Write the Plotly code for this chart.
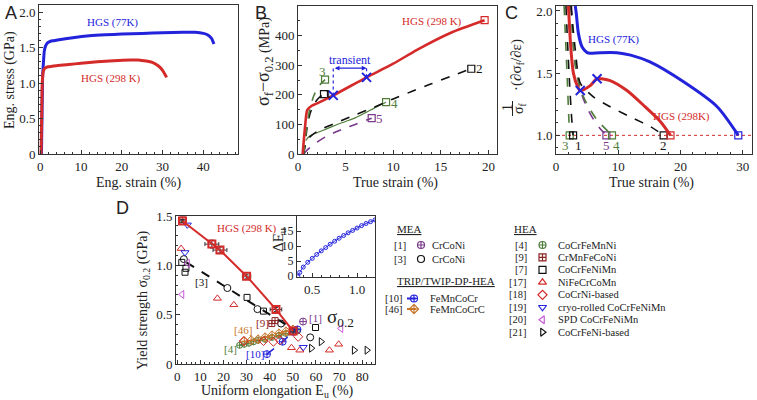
import plotly.graph_objects as go

SERIF = "Liberation Serif"
SANS = "Liberation Sans"
W, H = 757, 400

RED = "#d42a2a"
BLUE = "#2323dc"
GREEN = "#4f7d3a"
PURPLE = "#7a3a8c"
ORANGE = "#c8762c"
DKRED = "#8c2323"
MAGENTA = "#c85ad8"
BLACK = "#111111"

# ---------------- Panel A: engineering stress-strain ----------------
A_strain_77 = [0.3, 0.45, 0.6, 0.8, 1.0, 1.3, 1.7, 2.2, 3, 5, 8, 12, 16, 20, 25, 30, 35, 38, 40, 41, 42, 42.6]
A_stress_77 = [0, 0.6, 1.1, 1.3, 1.45, 1.52, 1.56, 1.58, 1.595, 1.615, 1.64, 1.665, 1.68, 1.69, 1.70, 1.71, 1.715, 1.715, 1.70, 1.68, 1.63, 1.55]
A_strain_298 = [0.2, 0.35, 0.5, 0.7, 1.0, 1.5, 2, 4, 7, 10, 14, 18, 22, 24, 26, 27.5, 29, 30, 31]
A_stress_298 = [0, 0.5, 1.0, 1.15, 1.2, 1.22, 1.23, 1.245, 1.26, 1.28, 1.30, 1.315, 1.325, 1.325, 1.31, 1.29, 1.24, 1.18, 1.08]

# ---------------- Panel B: sigma_f - sigma_0.2 vs true strain ----------------
B_hgs_x = [0.49, 0.74, 0.98, 1.44, 1.96, 3.7, 7.2, 10, 12.5, 16, 19.6]
B_hgs_y = [0, 92, 149, 163, 170, 198, 259, 305, 352, 409, 452]
B_c1_x = [0.6, 0.8, 1.0, 1.3, 1.7, 2.2, 2.73]
B_c1_y = [0, 50, 100, 140, 170, 190, 202]
B_c2_x = [0.6, 0.9, 1.5, 2.5, 4, 6, 8, 10, 12, 14, 16, 18.2]
B_c2_y = [0, 45, 65, 85, 105, 132, 158, 186, 212, 237, 262, 288]
B_c3_x = [0.6, 0.8, 1.0, 1.3, 1.7, 2.2, 2.84]
B_c3_y = [0, 60, 110, 160, 200, 230, 251]
B_c4_x = [0.8, 1.2, 2, 3, 4, 5, 6, 7, 8, 9.25]
B_c4_y = [45, 60, 72, 85, 98, 110, 122, 138, 155, 175]
B_c5_x = [0.6, 1, 2, 3, 4, 5, 6, 7, 7.74]
B_c5_y = [0, 15, 40, 60, 75, 88, 100, 112, 121]
B_transient_x = [3.7, 7.2]
B_transient_y = [198, 259]

# ---------------- Panel C: normalized hardening rate ----------------
C_77_x = [3.1, 3.26, 3.6, 4.2, 5.0, 5.5, 7.1, 9.8, 12, 15.1, 20.5, 25.9, 29.3]
C_77_y = [2.04, 1.98, 1.82, 1.71, 1.665, 1.66, 1.665, 1.665, 1.645, 1.59, 1.43, 1.23, 1.0]
C_298_x = [2.0, 2.4, 2.8, 3.4, 3.9, 5.5, 6.6, 8.7, 11.4, 14.1, 16.8, 18.4]
C_298_y = [2.04, 1.69, 1.5, 1.4, 1.36, 1.40, 1.455, 1.44, 1.36, 1.24, 1.11, 1.0]
C_c1_x = [1.6, 1.9, 2.2, 2.5, 2.75]
C_c1_y = [2.04, 1.7, 1.4, 1.15, 1.0]
C_c2_x = [2.4, 3.1, 3.9, 6.0, 8.7, 12.5, 15.2, 17.3]
C_c2_y = [2.04, 1.69, 1.42, 1.31, 1.23, 1.135, 1.07, 1.0]
C_c3_x = [1.3, 1.6, 1.85, 2.05, 2.2]
C_c3_y = [2.04, 1.7, 1.4, 1.15, 1.0]
C_c4_x = [2.4, 2.8, 3.3, 4.0, 5.0, 6.5, 8.0, 9.0]
C_c4_y = [2.04, 1.7, 1.5, 1.36, 1.25, 1.13, 1.05, 1.0]
C_c5_x = [2.5, 3.0, 4.0, 5.0, 6.0, 7.0, 8.1]
C_c5_y = [2.04, 1.6, 1.35, 1.22, 1.13, 1.06, 1.0]
C_cross_x = [3.9, 6.6]
C_cross_y = [1.36, 1.455]

# ---------------- Panel D: yield strength vs uniform elongation ----------------
D_hgs_Eu = [2.3, 15, 18.5, 30, 42.7, 50.1]
D_hgs_sig = [1.45, 1.215, 1.155, 0.89, 0.553, 0.334]
D_hgs_errx = [0.6, 3, 3, 1.8, 2.5, 1.2]
D_hgs_erry = [0.015, 0.04, 0.03, 0.02, 0.02, 0.02]
D_r1_Eu = [54.4]
D_r1_sig = [0.43]
D_r3_Eu = [2.9, 21.7, 34.7, 44.9, 57.5]
D_r3_sig = [1.063, 0.77, 0.556, 0.41, 0.27]
D_r3_trend_Eu = [4, 50]
D_r3_trend_sig = [1.03, 0.355]
D_r4_Eu = [27, 29, 31, 33, 35, 38, 41, 44, 47, 50, 52]
D_r4_sig = [0.19, 0.2, 0.21, 0.225, 0.24, 0.25, 0.27, 0.29, 0.31, 0.325, 0.335]
D_r46_Eu = [29, 32, 35, 38, 41, 44, 47, 50]
D_r46_sig = [0.23, 0.24, 0.25, 0.27, 0.29, 0.31, 0.33, 0.35]
D_r10_Eu = [38.8, 45.6, 50.1, 52]
D_r10_sig = [0.1, 0.226, 0.327, 0.35]
D_r7_Eu = [2.0, 3.4, 3.8, 30.2, 37.3, 59.8]
D_r7_sig = [1.03, 0.93, 0.97, 0.675, 0.536, 0.37]
D_r9_Eu = [2.4, 40.9, 42.3]
D_r9_sig = [1.46, 0.41, 0.44]
D_r17_Eu = [1.7, 17.4, 24.5, 49.4, 53, 65.8, 69.8]
D_r17_sig = [1.17, 0.665, 0.6, 0.165, 0.14, 0.14, 0.2]
D_r18_Eu = [28.8, 37.3, 41.6, 44.4, 52.3]
D_r18_sig = [0.233, 0.233, 0.226, 0.24, 0.276]
D_r19_Eu = [4.4, 3.4, 54.5]
D_r19_sig = [1.41, 1.13, 0.17]
D_r20_Eu = [4.5, 2.1, 70.8]
D_r20_sig = [1.02, 0.705, 0.36]
D_r21_Eu = [58, 62.2, 76.5, 82]
D_r21_sig = [0.16, 0.226, 0.14, 0.14]

# inset: delta Eu vs sigma_0.2
I_sig = [0.34, 0.36, 0.4, 0.45, 0.5, 0.55, 0.6, 0.65, 0.7, 0.75, 0.8, 0.85, 0.9, 0.95, 1.0, 1.05, 1.1, 1.15, 1.2]
I_dEu = [0, 1.2, 3.0, 4.6, 5.9, 7.2, 8.4, 9.5, 10.6, 11.6, 12.6, 13.5, 14.4, 15.2, 16.0, 16.8, 17.5, 18.1, 18.7]

# legend content
MEA_refs = ["[1]", "[3]"]
MEA_names = ["CrCoNi", "CrCoNi"]
MEA_symbols = ["circle-cross-open", "circle-open"]
MEA_colors = [PURPLE, BLACK]
TRIP_refs = ["[10]", "[46]"]
TRIP_names = ["FeMnCoCr", "FeMnCoCrC"]
TRIP_symbols = ["circle-cross-open", "diamond-cross-open"]
TRIP_colors = [BLUE, ORANGE]
HEA_refs = ["[4]", "[9]", "[7]", "[17]", "[18]", "[19]", "[20]", "[21]"]
HEA_names = ["CoCrFeMnNi", "CrMnFeCoNi", "CoCrFeNiMn", "NiFeCrCoMn", "CoCrNi-based",
             "cryo-rolled CoCrFeNiMn", "SPD CoCrFeNiMn", "CoCrFeNi-based"]
HEA_symbols = ["circle-cross-open", "square-cross-open", "square-open", "triangle-up-open",
               "diamond-open", "triangle-down-open", "triangle-left-open", "triangle-right-open"]
HEA_colors = [GREEN, DKRED, BLACK, RED, RED, BLUE, MAGENTA, BLACK]

fig = go.Figure()


def px_dom_x(a, b):
    return [a / W, b / W]


def px_dom_y(top, bottom):
    return [1 - bottom / H, 1 - top / H]


def axis(domain, rng, anchor, tickvals=None, ticktext=None, minor=None, **kw):
    d = dict(domain=domain, range=rng, anchor=anchor, showline=True, linecolor="#333", linewidth=1,
             mirror=True, ticks="inside", ticklen=4, tickcolor="#333", showgrid=False, zeroline=False,
             automargin=False, tickfont=dict(family=SERIF, size=13, color="#222"))
    if tickvals is not None:
        d["tickvals"] = tickvals
        d["ticktext"] = ticktext if ticktext is not None else [str(v) for v in tickvals]
    if minor is not None:
        d["minor"] = dict(ticks="inside", ticklen=2, dtick=minor, tickcolor="#333", showgrid=False)
    d.update(kw)
    return d


# ---- Panel A traces
fig.add_trace(go.Scatter(x=A_strain_77, y=A_stress_77, mode="lines", line=dict(color=BLUE, width=3, shape="spline", smoothing=0.6),
                         xaxis="x", yaxis="y", showlegend=False))
fig.add_trace(go.Scatter(x=A_strain_298, y=A_stress_298, mode="lines", line=dict(color=RED, width=3, shape="spline", smoothing=0.6),
                         xaxis="x", yaxis="y", showlegend=False))


# ---- Panel B traces
def b_curve(x, y, color, dash, width=1.6):
    fig.add_trace(go.Scatter(x=x, y=y, mode="lines", line=dict(color=color, width=width, dash=dash, shape="spline", smoothing=0.7),
                             xaxis="x2", yaxis="y2", showlegend=False))
    fig.add_trace(go.Scatter(x=[x[-1]], y=[y[-1]], mode="markers", marker=dict(symbol="square-open", size=7, color=color, line=dict(width=1.2)),
                             xaxis="x2", yaxis="y2", showlegend=False))


b_curve(B_c5_x, B_c5_y, PURPLE, "dash")
b_curve(B_c4_x, B_c4_y, GREEN, "solid", 1.2)
b_curve(B_c2_x, B_c2_y, BLACK, "dash")
b_curve(B_c1_x, B_c1_y, BLACK, "dash")
b_curve(B_c3_x, B_c3_y, GREEN, "dash")
b_curve(B_hgs_x, B_hgs_y, RED, "solid", 2.6)
fig.add_trace(go.Scatter(x=B_transient_x, y=B_transient_y, mode="markers", marker=dict(symbol="x-thin-open", size=9, color=BLUE, line=dict(width=2, color=BLUE)),
                         xaxis="x2", yaxis="y2", showlegend=False))


# ---- Panel C traces
def c_curve(x, y, color, dash, width=1.6):
    fig.add_trace(go.Scatter(x=x, y=y, mode="lines", line=dict(color=color, width=width, dash=dash, shape="spline", smoothing=0.7),
                             xaxis="x3", yaxis="y3", showlegend=False))
    fig.add_trace(go.Scatter(x=[x[-1]], y=[y[-1]], mode="markers", marker=dict(symbol="square-open", size=7, color=color, line=dict(width=1.2)),
                             xaxis="x3", yaxis="y3", showlegend=False))


c_curve(C_c3_x, C_c3_y, GREEN, "dash")
c_curve(C_c1_x, C_c1_y, BLACK, "dash")
c_curve(C_c5_x, C_c5_y, PURPLE, "dash")
c_curve(C_c4_x, C_c4_y, GREEN, "dash")
c_curve(C_c2_x, C_c2_y, BLACK, "dash")
c_curve(C_77_x, C_77_y, BLUE, "solid", 3)
c_curve(C_298_x, C_298_y, RED, "solid", 3)
fig.add_trace(go.Scatter(x=C_cross_x, y=C_cross_y, mode="markers", marker=dict(symbol="x-thin-open", size=9, color=BLUE, line=dict(width=2, color=BLUE)),
                         xaxis="x3", yaxis="y3", showlegend=False))


# ---- Panel D traces
def d_pts(x, y, sym, color, size=7, line=None):
    mode = "markers" if line is None else "lines+markers"
    fig.add_trace(go.Scatter(x=x, y=y, mode=mode, marker=dict(symbol=sym, size=size, color=color, line=dict(width=1, color=color)),
                             line=line, xaxis="x4", yaxis="y4", showlegend=False))


fig.add_trace(go.Scatter(x=D_r3_trend_Eu, y=D_r3_trend_sig, mode="lines", line=dict(color=BLACK, width=2, dash="dash"),
                         xaxis="x4", yaxis="y4", showlegend=False))
d_pts(D_r4_Eu, D_r4_sig, "circle-cross-open", GREEN, 6, dict(color=GREEN, width=1.3, dash="dash"))
d_pts(D_r46_Eu, D_r46_sig, "diamond-cross-open", ORANGE, 7, dict(color=ORANGE, width=1.3, dash="dash"))
d_pts(D_r10_Eu, D_r10_sig, "circle-cross-open", BLUE, 7, dict(color=BLUE, width=1.5, dash="dash"))
d_pts(D_r1_Eu, D_r1_sig, "circle-cross-open", PURPLE, 7)
d_pts(D_r3_Eu, D_r3_sig, "circle-open", BLACK, 7)
d_pts(D_r7_Eu, D_r7_sig, "square-open", BLACK, 6)
d_pts(D_r9_Eu, D_r9_sig, "square-cross-open", DKRED, 6)
d_pts(D_r17_Eu, D_r17_sig, "triangle-up-open", RED, 7)
d_pts(D_r18_Eu, D_r18_sig, "diamond-open", RED, 7)
d_pts(D_r19_Eu, D_r19_sig, "triangle-down-open", BLUE, 7)
d_pts(D_r20_Eu, D_r20_sig, "triangle-left-open", MAGENTA, 7)
d_pts(D_r21_Eu, D_r21_sig, "triangle-right-open", BLACK, 7)
fig.add_trace(go.Scatter(x=D_hgs_Eu, y=D_hgs_sig, mode="lines+markers",
                         line=dict(color=RED, width=2),
                         marker=dict(symbol="square-open", size=7, color=RED, line=dict(width=2, color=RED)),
                         error_x=dict(type="data", array=D_hgs_errx, color="#333", thickness=1, width=2),
                         error_y=dict(type="data", array=D_hgs_erry, color="#333", thickness=1, width=2),
                         xaxis="x4", yaxis="y4", showlegend=False))

# inset
fig.add_trace(go.Scatter(x=I_sig, y=I_dEu, mode="lines+markers", line=dict(color=BLUE, width=1, shape="spline"),
                         marker=dict(symbol="circle-open", size=4, color=BLUE, line=dict(width=1)),
                         xaxis="x5", yaxis="y5", showlegend=False))

# ---- legend markers on hidden pixel axis
leg_x, leg_y, leg_sym, leg_col = [], [], [], []
annots = []


def txt(x, y, s, size=11, color="#222", xanchor="left", font=SERIF, under=False, angle=0, yanchor="middle"):
    f = dict(family=font, size=size, color=color)
    if under:
        f["lineposition"] = "under"
    annots.append(dict(x=x / W, y=1 - y / H, xref="paper", yref="paper", text=s, showarrow=False,
                       xanchor=xanchor, yanchor=yanchor, font=f, textangle=angle))


txt(395, 229, "MEA", under=True)
for i in range(len(MEA_refs)):
    yy = 245 + 14 * i
    txt(408, yy, MEA_refs[i], xanchor="right", size=10.5)
    leg_x.append(421); leg_y.append(yy); leg_sym.append(MEA_symbols[i]); leg_col.append(MEA_colors[i])
    txt(430, yy, MEA_names[i], size=10.5)
txt(395, 281, "TRIP/TWIP-DP-HEA", under=True)
for i in range(len(TRIP_refs)):
    yy = 298.5 + 10.5 * i
    txt(405, yy, TRIP_refs[i], xanchor="right", size=10.5)
    fig.add_trace(go.Scatter(x=[407, 421], y=[yy, yy], mode="lines", line=dict(color=TRIP_colors[i], width=2, dash="dash"),
                             xaxis="x6", yaxis="y6", showlegend=False, hoverinfo="skip"))
    leg_x.append(414); leg_y.append(yy); leg_sym.append(TRIP_symbols[i]); leg_col.append(TRIP_colors[i])
    txt(428, yy, TRIP_names[i], size=10.5)
txt(512, 229, "HEA", under=True)
for i in range(len(HEA_refs)):
    yy = 245 + 12.45 * i
    txt(529, yy, HEA_refs[i], xanchor="right", size=10.5)
    leg_x.append(542.5); leg_y.append(yy); leg_sym.append(HEA_symbols[i]); leg_col.append(HEA_colors[i])
    txt(556, yy, HEA_names[i], size=10.5)
fig.add_trace(go.Scatter(x=leg_x, y=leg_y, mode="markers",
                         marker=dict(symbol=leg_sym, size=7, color=leg_col, line=dict(width=1.2, color=leg_col)),
                         xaxis="x6", yaxis="y6", showlegend=False, hoverinfo="skip"))

# panel letters
txt(3, 13, "A", size=18, font=SANS)
txt(253, 13, "B", size=18, font=SANS)
txt(503, 13, "C", size=18, font=SANS)
txt(114, 208, "D", size=18, font=SANS)

# axis titles
txt(138, 183, "Eng. strain (%)", size=14, xanchor="center")
txt(10, 80, "Eng. stress (GPa)", size=14, xanchor="center", angle=-90)
txt(395, 183, "True strain (%)", size=14, xanchor="center")
txt(264, 62, "<span style='font-size:18px'>σ<sub>f</sub>−σ<sub>0.2</sub></span> (MPa)", size=14, xanchor="center", angle=-90)
txt(651, 183, "True strain (%)", size=14, xanchor="center")
txt(507, 108, "1", size=14, xanchor="center", angle=-90)
txt(519, 108, "σ<sub>f</sub>", size=14, xanchor="center", angle=-90)
txt(517, 65, "·(∂σ<sub>f</sub>/∂ε)", size=15, xanchor="center", angle=-90)
txt(277, 391, "Uniform elongation E<sub>u</sub> (%)", size=14, xanchor="center")
txt(143, 300, "Yield strength σ<sub>0.2</sub> (GPa)", size=14, xanchor="center", angle=-90)
txt(340, 318, "σ<sub>0.2</sub>", size=19, xanchor="center")
txt(279, 240, "ΔE<sub>u</sub>", size=15, xanchor="center", angle=-90)


def dtxt(xr, yr, x, y, s, color, size=11, xanchor="center"):
    annots.append(dict(x=x, y=y, xref=xr, yref=yr, text=s, showarrow=False, xanchor=xanchor,
                       yanchor="middle", font=dict(family=SERIF, size=size, color=color)))


# panel A labels
dtxt("x", "y", 17.7, 1.85, "HGS (77K)", BLUE)
dtxt("x", "y", 17.3, 1.06, "HGS (298 K)", RED)
# panel B labels
dtxt("x2", "y2", 14.1, 448, "HGS (298 K)", RED)
dtxt("x2", "y2", B_c1_x[-1] + 0.5, B_c1_y[-1] + 4, "1", BLACK, 13)
dtxt("x2", "y2", B_c2_x[-1] + 0.9, B_c2_y[-1], "2", BLACK, 13)
dtxt("x2", "y2", B_c3_x[-1] - 0.3, B_c3_y[-1] + 28, "3", GREEN, 13)
dtxt("x2", "y2", B_c4_x[-1] + 0.9, B_c4_y[-1] - 4, "4", GREEN, 13)
dtxt("x2", "y2", B_c5_x[-1] + 0.8, B_c5_y[-1] - 2, "5", PURPLE, 13)
dtxt("x2", "y2", 5.45, 316, "transient", BLUE, 12)
annots.append(dict(x=B_transient_x[1], y=290, ax=B_transient_x[0], ay=290, xref="x2", yref="y2", axref="x2", ayref="y2",
                   text="", showarrow=True, arrowhead=2, arrowside="end+start", arrowsize=0.8, arrowwidth=1.2, arrowcolor=BLUE))
# panel C labels
dtxt("x3", "y3", 9.3, 1.77, "HGS (77K)", BLUE)
dtxt("x3", "y3", 20.1, 1.15, "HGS (298K)", RED)
for xv, s, col in [(C_c3_x[-1] - 0.6, "3", GREEN), (C_c1_x[-1] + 0.8, "1", BLACK), (C_c5_x[-1], "5", PURPLE),
                   (C_c4_x[-1] + 0.8, "4", GREEN), (C_c2_x[-1], "2", BLACK)]:
    dtxt("x3", "y3", xv, 0.915, s, col, 13)
# panel D labels
dtxt("x4", "y4", 30.3, 1.37, "HGS (298 K)", RED)
dtxt("x4", "y4", 10.5, 0.83, "[3]", BLACK)
dtxt("x4", "y4", 37.0, 0.42, "[9]", DKRED)
dtxt("x4", "y4", 59.8, 0.47, "[1]", PURPLE)
dtxt("x4", "y4", 28.5, 0.34, "[46]", ORANGE)
dtxt("x4", "y4", 23.0, 0.15, "[4]", GREEN)
dtxt("x4", "y4", 33.5, 0.1, "[10]", BLUE)

shapes = [
    dict(type="line", xref="x3 domain", yref="y3", x0=0, x1=1, y0=1.0, y1=1.0, line=dict(color=RED, width=1, dash="dot"), layer="below"),
    dict(type="line", xref="paper", yref="paper", x0=512.5 / W, x1=512.5 / W, y0=1 - 101 / H, y1=1 - 116 / H, line=dict(color="#222", width=1)),
]
for xv, yv in zip(B_transient_x, B_transient_y):
    shapes.append(dict(type="line", xref="x2", yref="y2", x0=xv, x1=xv, y0=yv, y1=298, line=dict(color=BLUE, width=1.2, dash="dot")))

dA_x, dA_y = px_dom_x(39, 238), px_dom_y(5, 154)
dB_x, dB_y = px_dom_x(298, 497), px_dom_y(6, 154)
dC_x, dC_y = px_dom_x(556, 752), px_dom_y(6, 154)
dD_x, dD_y = px_dom_x(176, 375), px_dom_y(216, 364)
dI_x, dI_y = px_dom_x(297, 375), px_dom_y(216, 277)

fig.update_layout(
    template="none",
    width=W, height=H, margin=dict(l=0, r=0, t=0, b=0, pad=0),
    paper_bgcolor="white", plot_bgcolor="rgba(0,0,0,0)", showlegend=False,
    font=dict(family=SERIF, color="#222"),
    xaxis=axis(dA_x, [-0.3, 48.5], "y", tickvals=[0, 10, 20, 30, 40], minor=2),
    yaxis=axis(dA_y, [0, 2.1], "x", tickvals=[0, 0.5, 1.0, 1.5, 2.0],
               ticktext=["0", "0.5", "1.0", "1.5", "2.0"], minor=0.1),
    xaxis2=axis(dB_x, [0, 20.9], "y2", tickvals=[0, 5, 10, 15, 20], minor=1),
    yaxis2=axis(dB_y, [0, 500], "x2", tickvals=[0, 100, 200, 300, 400, 500], minor=50),
    xaxis3=axis(dC_x, [0, 31.5], "y3", tickvals=[0, 10, 20, 30], minor=2),
    yaxis3=axis(dC_y, [0.85, 2.04], "x3", tickvals=[1.0, 1.5, 2.0], ticktext=["1.0", "1.5", "2.0"], minor=0.1),
    xaxis4=axis(dD_x, [-0.5, 85.5], "y4", tickvals=[0, 10, 20, 30, 40, 50, 60, 70, 80], minor=2),
    yaxis4=axis(dD_y, [0, 1.5], "x4", tickvals=[0, 0.5, 1.0, 1.5], ticktext=["0", "0.5", "1.0", "1.5"], minor=0.1),
    xaxis5=axis(dI_x, [0.33, 1.2], "y5", tickvals=[0.5, 1.0], ticktext=["0.5", "1.0"], minor=0.1),
    yaxis5=axis(dI_y, [-0.3, 20], "x5", tickvals=[0, 5, 10, 15], tickfont=dict(family=SERIF, size=12, color="#222")),
    xaxis6=dict(domain=[0, 1], range=[0, W], anchor="y6", visible=False, fixedrange=True),
    yaxis6=dict(domain=[0, 1], range=[H, 0], anchor="x6", visible=False, fixedrange=True),
    annotations=annots, shapes=shapes,
)

fig.write_html("out.html", config={"displayModeBar": False},
               post_script="document.documentElement.style.margin='0';document.body.style.margin='0';document.body.style.overflow='hidden';")
